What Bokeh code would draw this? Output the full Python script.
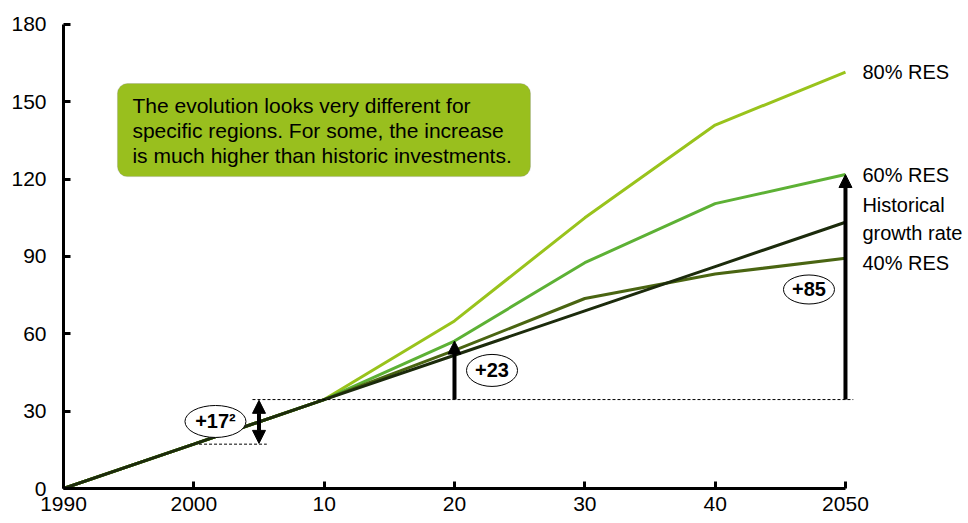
from bokeh.plotting import figure
from bokeh.models import (Range1d, FixedTicker, Arrow, NormalHead, BoxAnnotation, Label)
from bokeh.core.properties import value
from bokeh.embed import file_html
from bokeh.resources import INLINE

# ---- data ----
years = [1990, 2000, 2010, 2020, 2030, 2040, 2050]
res80 = [0, 17.2, 34.5, 65.0, 105.0, 141.0, 161.5]
res60 = [0, 17.2, 34.5, 57.2, 87.6, 110.5, 121.8]
res40 = [0, 17.2, 34.5, 53.6, 73.7, 83.2, 89.3]
hist = [0, 17.2, 34.5, 51.7, 68.9, 86.1, 103.3]
tick_labels = ["1990", "2000", "10", "20", "30", "40", "2050"]
y_ticks = [0, 30, 60, 90, 120, 150, 180]
deltas = ["+17\u00b2", "+23", "+85"]
series_labels = ["80% RES", "60% RES", "Historical\ngrowth rate", "40% RES"]
note = ["The evolution looks very different for",
        "specific regions. For some, the increase",
        "is much higher than historic investments."]

C80, C60, C40, CH = "#99c31c", "#5db135", "#4a6512", "#1c2b0c"
FONT = "Liberation Sans"
FS = "21px"
FS_R = "20px"

p = figure(width=968, height=523, x_range=Range1d(1990, 2059.44), y_range=Range1d(0, 183.1),
           output_backend="svg", toolbar_location=None,
           min_border_left=63, min_border_right=0, min_border_top=16, min_border_bottom=35)
p.outline_line_color = None
p.xgrid.visible = False
p.ygrid.visible = False
p.background_fill_color = "white"

for ax in (p.xaxis[0], p.yaxis[0]):
    ax.axis_line_width = 3
    ax.axis_line_color = "black"
    ax.major_tick_line_width = 3
    ax.major_tick_line_color = "black"
    ax.major_tick_in = 7
    ax.major_tick_out = 0
    ax.minor_tick_line_color = None
    ax.major_label_text_font = FONT
    ax.major_label_text_font_size = FS
    ax.major_label_text_color = "black"

p.xaxis.ticker = FixedTicker(ticks=years)
p.xaxis.major_label_overrides = {y: t for y, t in zip(years, tick_labels)}
p.xaxis.bounds = (years[0], years[-1])
p.xaxis.major_label_standoff = 8
p.yaxis.ticker = FixedTicker(ticks=y_ticks)
p.yaxis.bounds = (0, 180)
p.yaxis.major_label_standoff = 17

# lines
p.line(years, res80, line_color=C80, line_width=3)
p.line(years, res60, line_color=C60, line_width=3)
p.line(years, res40, line_color=C40, line_width=3)
p.line(years, hist, line_color=CH, line_width=3)

base = hist[2]
# dashed reference lines
p.line([2004.5, 2050.6], [base, base], line_color="black", line_width=1, line_dash="3 2")
p.line([2000.4, 2005.6], [hist[1], hist[1]], line_color="black", line_width=1, line_dash="3 2")

# arrows
def head():
    return NormalHead(size=13, fill_color="black", line_color="black", line_width=1)

p.add_layout(Arrow(start=head(), end=head(), x_start=2005, y_start=hist[1] + 0.3,
                   x_end=2005, y_end=base - 0.3, line_width=4, line_color="black"))
p.add_layout(Arrow(end=head(), x_start=2020, y_start=base, x_end=2020, y_end=res60[3],
                   line_width=4, line_color="black"))
p.add_layout(Arrow(end=head(), x_start=2050, y_start=base, x_end=2050, y_end=res60[6],
                   line_width=4, line_color="black"))

# delta ellipses
ex = [2001.66, 2022.88, 2047.2]
ey = [26.0, 45.8, 77.2]
ew = [61, 51, 51]
eh = [32, 32, 29]
p.ellipse(ex, ey, width=ew, height=eh, width_units="screen", height_units="screen",
          fill_color="white", line_color="black", line_width=1)
p.text(ex, ey, text=deltas, text_font=value(FONT), text_font_style="bold",
       text_font_size="20px", text_align="center", text_baseline="middle", text_color="black")

# series labels at right
lx = 2051.3
p.text([lx], [res80[-1]], text=[series_labels[0]], text_font=value(FONT), text_font_size=FS_R,
       text_baseline="middle", text_color="black")
p.text([lx], [res60[-1]], text=[series_labels[1]], text_font=value(FONT), text_font_size=FS_R,
       text_baseline="middle", text_color="black")
p.text([lx], [hist[-1]], text=[series_labels[2]], text_font=value(FONT), text_font_size=FS_R,
       text_baseline="middle", text_color="black", text_line_height=1.25, y_offset=-3)
p.text([lx], [res40[-1]], text=[series_labels[3]], text_font=value(FONT), text_font_size=FS_R,
       text_baseline="middle", text_color="black", y_offset=5)

# note box
p.add_layout(BoxAnnotation(left=1994.14, right=2025.83, top=157.1, bottom=121.0,
                           fill_color="#99bf1e", fill_alpha=1, line_color="#8c8c8c",
                           line_width=1, border_radius=10))
for i, line in enumerate(note):
    p.add_layout(Label(x=1995.29, y=148.6 - i * 9.7, text=line, text_font=FONT,
                       text_font_size=FS, text_baseline="middle", text_color="black"))

open("out.html", "w").write(file_html(p, INLINE))
